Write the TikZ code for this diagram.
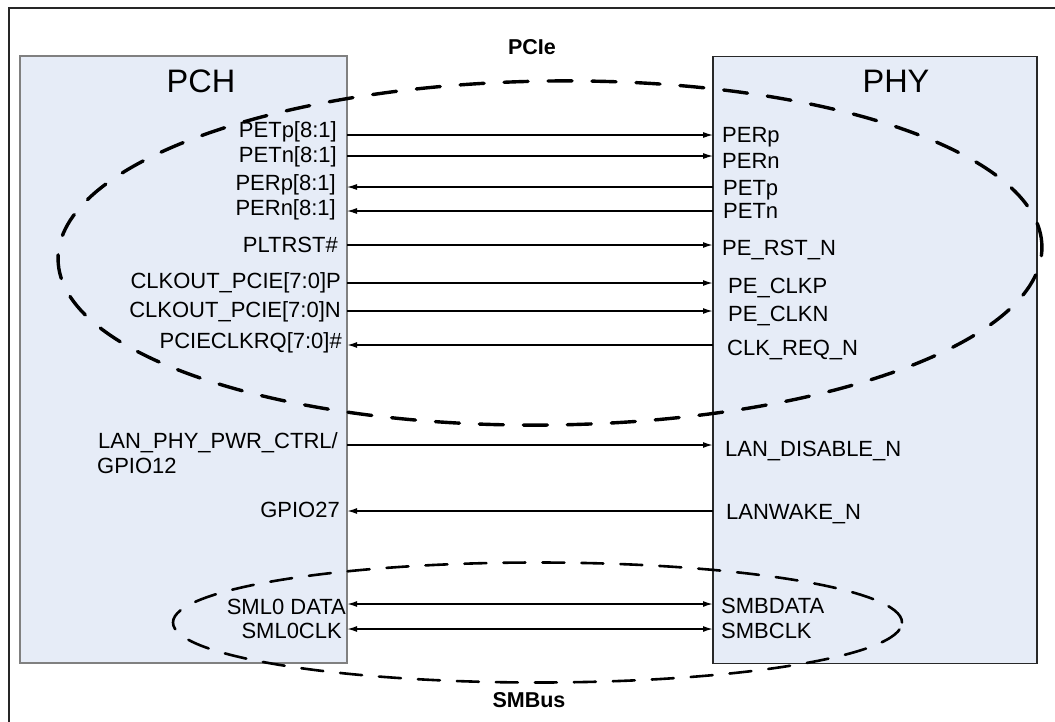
\documentclass[tikz,border=0pt]{standalone}
\usepackage{fontspec}
\setmainfont{Liberation Sans}
\usetikzlibrary{arrows.meta}
\definecolor{boxfill}{RGB}{230,236,247}
\definecolor{pchline}{RGB}{128,128,128}
\definecolor{phyline}{RGB}{40,40,40}
\begin{document}
\begin{tikzpicture}[x=1pt,y=-1pt,
  chip/.style={draw, fill=boxfill, line width=1.4pt, inner sep=0pt, outer sep=0pt},
  chiptitle/.style={font=\fontsize{32.5}{35}\selectfont, inner sep=0pt},
  lbl/.style={font=\fontsize{22}{24}\selectfont, inner sep=0pt},
  lleft/.style={lbl, anchor=base east},
  lright/.style={lbl, anchor=base west},
  grp/.style={font=\bfseries\fontsize{21.5}{23}\selectfont, inner sep=0pt},
  thin sig/.style={line width=1.1pt},
  thick sig/.style={line width=1.6pt},
  tip/.style={-{Latex[length=10pt,width=6pt]}},
  rtip/.style={{Latex[length=10pt,width=6pt]}-},
  btip/.style={{Latex[length=10pt,width=6pt]}-{Latex[length=10pt,width=6pt]}},
  pcieoval/.style={line width=3.4pt, dash pattern=on 24pt off 20pt, line cap=round},
  smboval/.style={line width=2.6pt, dash pattern=on 22pt off 17pt, line cap=round}]
\clip (0,0) rectangle (1055,721);
\fill[white] (0,0) rectangle (1055,721);
% outer frame
\draw[line width=1.5pt, black!85] (9,8) rectangle (1080,760);
% chips
\node[chip, draw=pchline, minimum width=327pt, minimum height=607pt] (pch) at (183.5,359.5) {};
\node[chip, draw=phyline, minimum width=324pt, minimum height=607pt] (phy) at (875,360) {};
\node[chiptitle] (pchT) at (201,81) {PCH};
\node[chiptitle] (phyT) at (896,81) {PHY};
% row coordinates
\coordinate (r1) at (0,135);
\coordinate (r2) at (0,156);
\coordinate (r3) at (0,187);
\coordinate (r4) at (0,211);
\coordinate (r5) at (0,245);
\coordinate (r6) at (0,283);
\coordinate (r7) at (0,311);
\coordinate (r8) at (0,345);
\coordinate (r9) at (0,445);
\coordinate (r10) at (0,511);
\coordinate (r11) at (0,604);
\coordinate (r12) at (0,629);
% connectors
\draw[thin sig, tip] (pch.east |- r1) -- (phy.west |- r1);
\draw[thin sig, tip] (pch.east |- r2) -- (phy.west |- r2);
\draw[thin sig, rtip] (pch.east |- r3) -- (phy.west |- r3);
\draw[thin sig, rtip] (pch.east |- r4) -- (phy.west |- r4);
\draw[thick sig, tip] (pch.east |- r5) -- (phy.west |- r5);
\draw[thick sig, tip] (pch.east |- r6) -- (phy.west |- r6);
\draw[thick sig, tip] (pch.east |- r7) -- (phy.west |- r7);
\draw[thick sig, rtip] (pch.east |- r8) -- (phy.west |- r8);
\draw[thick sig, tip] (pch.east |- r9) -- (phy.west |- r9);
\draw[thick sig, rtip] (pch.east |- r10) -- (phy.west |- r10);
\draw[thick sig, btip] (pch.east |- r11) -- (phy.west |- r11);
\draw[thick sig, btip] (pch.east |- r12) -- (phy.west |- r12);
% PCH labels
\node[lleft] (l1) at (337,137) {PETp[8:1]};
\node[lleft] (l2) at (337,162) {PETn[8:1]};
\node[lleft] (l3) at (336,190) {PERp[8:1]};
\node[lleft] (l4) at (336,215) {PERn[8:1]};
\node[lleft] (l5) at (338,252) {PLTRST\#};
\node[lleft] (l6) at (341,288) {CLKOUT\_PCIE[7:0]P};
\node[lleft] (l7) at (341,317) {CLKOUT\_PCIE[7:0]N};
\node[lleft] (l8) at (342,348) {PCIECLKRQ[7:0]\#};
\node[lleft] (l9) at (338,448) {LAN\_PHY\_PWR\_CTRL/};
\node[lright] (l9b) at (97,473) {GPIO12};
\node[lleft] (l10) at (340,517) {GPIO27};
\node[lleft] (l11) at (346,614) {SML0 DATA};
\node[lleft] (l12) at (342,638) {SML0CLK};
% PHY labels
\node[lright] (p1) at (722,142) {PERp};
\node[lright] (p2) at (722,168) {PERn};
\node[lright] (p3) at (723,195) {PETp};
\node[lright] (p4) at (723,218) {PETn};
\node[lright] (p5) at (722,255) {PE\_RST\_N};
\node[lright] (p6) at (728,293) {PE\_CLKP};
\node[lright] (p7) at (728,321) {PE\_CLKN};
\node[lright] (p8) at (727,355) {CLK\_REQ\_N};
\node[lright] (p9) at (725,456) {LAN\_DISABLE\_N};
\node[lright] (p10) at (726,519) {LANWAKE\_N};
\node[lright] (p11) at (721,613) {SMBDATA};
\node[lright] (p12) at (721,638) {SMBCLK};
% groups
\draw[pcieoval, rotate around={0.75:(550,253)}] (550,253) ellipse [x radius=492pt, y radius=172pt];
\draw[smboval] (537.5,622.5) ellipse [x radius=364.5pt, y radius=60pt];
\node[grp] (pcie) at (532,47) {PCIe};
\node[grp] (smbus) at (529,700) {SMBus};
\end{tikzpicture}
\end{document}
